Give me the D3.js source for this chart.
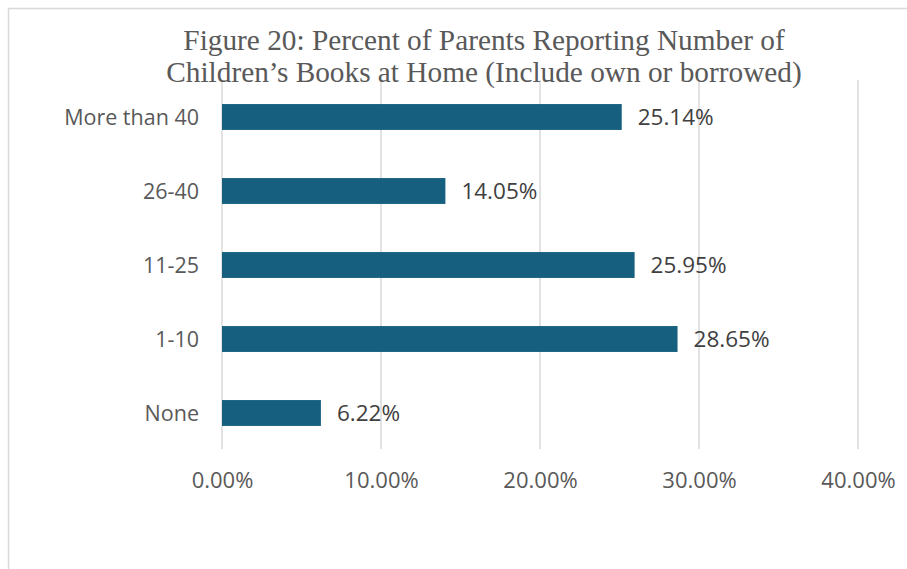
<!DOCTYPE html>
<html>
<head>
<meta charset="utf-8">
<script src="https://cdn.jsdelivr.net/npm/d3@7"></script>
<style>
  html, body { margin: 0; padding: 0; background: #fff; }
  svg { display: block; }
</style>
</head>
<body>
<svg id="chart" width="907" height="569"></svg>
<script>
// Book-count categories, top to bottom as drawn
const categories = ["More than 40", "26-40", "11-25", "1-10", "None"];
// Percent of parents in each category
const percents = [25.14, 14.05, 25.95, 28.65, 6.22];
// Axis ticks (percent)
const ticks = [0, 10, 20, 30, 40];
const titleLines = [
  "Figure 20: Percent of Parents Reporting Number of",
  "Children\u2019s Books at Home (Include own or borrowed)"
];

const svg = d3.select("#chart");
const W = 907, H = 569;
const sans = "'Open Sans', 'Liberation Sans', sans-serif";

// outer chart frame (only left and top edges fall inside the view)
svg.append("rect")
  .attr("x", 8.5).attr("y", 8.5)
  .attr("width", W + 20).attr("height", H + 20)
  .attr("fill", "#fff")
  .attr("stroke", "#d9d9d9").attr("stroke-width", 1.5);

const plot = { left: 222, right: 858, top: 80, bottom: 450 };

const x = d3.scaleLinear().domain([0, 40]).range([plot.left, plot.right]);
const y = d3.scaleBand().domain(categories).range([plot.top, plot.bottom]).paddingInner(0.65).paddingOuter(0.325);

// vertical gridlines
svg.append("g")
  .selectAll("line")
  .data(ticks)
  .join("line")
  .attr("x1", d => x(d)).attr("x2", d => x(d))
  .attr("y1", plot.top).attr("y2", plot.bottom - 1)
  .attr("stroke", "#d9d9d9").attr("stroke-width", 1.5);

// title
svg.append("g")
  .selectAll("text")
  .data(titleLines)
  .join("text")
  .attr("x", 484)
  .attr("y", (d, i) => 50 + i * 31.5)
  .attr("text-anchor", "middle")
  .attr("font-family", "'Liberation Serif', 'Times New Roman', serif")
  .attr("font-size", 29.3)
  .attr("fill", "#595959")
  .text(d => d);

// bars
svg.append("g")
  .selectAll("rect")
  .data(percents)
  .join("rect")
  .attr("x", x(0))
  .attr("y", (d, i) => y(categories[i]))
  .attr("width", d => x(d) - x(0))
  .attr("height", y.bandwidth())
  .attr("fill", "#165f7f");

// value labels
svg.append("g")
  .selectAll("text")
  .data(percents)
  .join("text")
  .attr("x", d => x(d) + 16)
  .attr("y", (d, i) => y(categories[i]) + y.bandwidth() / 2)
  .attr("dy", "0.36em")
  .attr("font-family", sans)
  .attr("font-size", 22.5)
  .attr("fill", "#404040")
  .text(d => d.toFixed(2) + "%");

// category axis
const yAxis = svg.append("g")
  .attr("transform", `translate(${plot.left},0)`)
  .call(d3.axisLeft(y).tickSize(0).tickPadding(23));
yAxis.select(".domain").remove();
yAxis.selectAll("text")
  .attr("dy", "0.36em")
  .attr("font-family", sans)
  .attr("font-size", 21.5)
  .attr("fill", "#595959");

// value axis
const xAxis = svg.append("g")
  .attr("transform", `translate(0,${plot.bottom})`)
  .call(d3.axisBottom(x).tickValues(ticks).tickSize(0).tickPadding(22)
    .tickFormat(d => d.toFixed(2) + "%"));
xAxis.select(".domain").remove();
xAxis.selectAll("text")
  .attr("font-family", sans)
  .attr("font-size", 22)
  .attr("fill", "#595959");
</script>
</body>
</html>
